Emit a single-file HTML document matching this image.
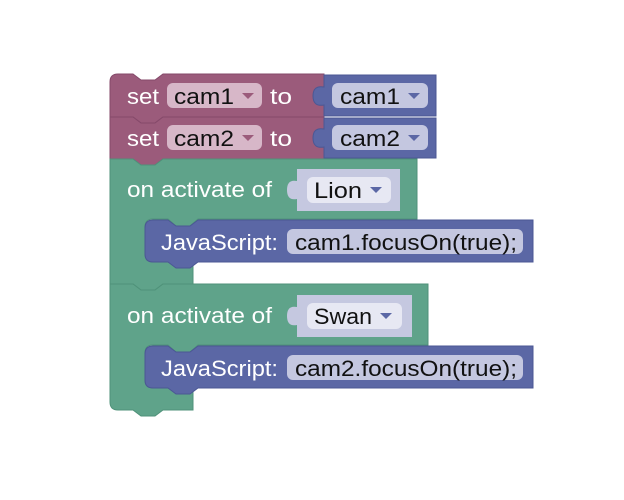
<!DOCTYPE html>
<html><head><meta charset="utf-8"><style>
html,body{margin:0;padding:0;background:#fff;width:624px;height:500px;overflow:hidden}
text{font-family:"Liberation Sans",sans-serif;font-size:22px}
.w{fill:#fff}.k{fill:#111}
</style></head><body>
<svg width="624" height="500" viewBox="0 0 624 500" xmlns="http://www.w3.org/2000/svg">
<path d="M110,82 Q110,74 118,74 L133,74 L141,80 L155,80 L163,74 L324,74 L324,117 L163,117 L155,123 L141,123 L133,117 L110,117 Z" fill="#9B5B7B" stroke="#85496A" stroke-width="1"/>
<path d="M110,117 L133,117 L141,123 L155,123 L163,117 L324,117 L324,159 L163,159 L155,165 L141,165 L133,159 L110,159 Z" fill="#9B5B7B" stroke="#85496A" stroke-width="1"/>
<path d="M324,75 L436,75 L436,116 L324,116 L324,105 Q313,107 313,96 Q313,85 324,87 Z" fill="#5B67A5" stroke="#4B5794"/>
<path d="M324,118 L436,118 L436,158 L324,158 L324,147 Q313,149 313,138 Q313,127 324,129 Z" fill="#5B67A5" stroke="#4B5794"/>
<path d="M110,159 L133,159 L141,165 L155,165 L163,159 L417,159 L417,219 L198,219 L190,226 L176,226 L168,219 L153,219 Q145,219 145,227 L145,254 Q145,262 153,262 L193,262 L193,284 L163,284 L155,290 L141,290 L133,284 L110,284 Z" fill="#5FA38A" stroke="#4F9279"/>
<path d="M110,284 L133,284 L141,290 L155,290 L163,284 L428,284 L428,345 L198,345 L190,352 L176,352 L168,345 L153,345 Q145,345 145,353 L145,380 Q145,388 153,388 L193,388 L193,410 L163,410 L155,416 L141,416 L133,410 L118,410 Q110,410 110,402 Z" fill="#5FA38A" stroke="#4F9279"/>
<path d="M297,169 L400,169 L400,211 L297,211 L297,199 Q287,201 287,190 Q287,179 297,181 Z" fill="#C5C8E0"/>
<path d="M297,295 L412,295 L412,337 L297,337 L297,325 Q287,327 287,316 Q287,305 297,307 Z" fill="#C5C8E0"/>
<path d="M153,220 Q145,220 145,228 L145,254 Q145,262 153,262 L168,262 L176,268 L190,268 L198,262 L533,262 L533,220 L198,220 L190,226 L176,226 L168,220 Z" fill="#5B67A5" stroke="#4B5794"/>
<path d="M153,346 Q145,346 145,354 L145,380 Q145,388 153,388 L168,388 L176,394 L190,394 L198,388 L533,388 L533,346 L198,346 L190,352 L176,352 L168,346 Z" fill="#5B67A5" stroke="#4B5794"/>
<rect x="167" y="83" width="95" height="25" rx="6" fill="#D7B7C8"/>
<rect x="167" y="125" width="95" height="25" rx="6" fill="#D7B7C8"/>
<rect x="332" y="83" width="96" height="25" rx="6" fill="#C4C7E0"/>
<rect x="332" y="125" width="96" height="25" rx="6" fill="#C4C7E0"/>
<rect x="307" y="177" width="84" height="26" rx="6" fill="#E7E8F3"/>
<rect x="307" y="303" width="95" height="26" rx="6" fill="#E7E8F3"/>
<rect x="287" y="229" width="236" height="25" rx="6" fill="#C4C7E0"/>
<rect x="287" y="355" width="236" height="25" rx="6" fill="#C4C7E0"/>
<g fill="#9B5B7B"><path d="M242,93 L254,93 L248,99 Z"/><path d="M242,135 L254,135 L248,141 Z"/></g>
<g fill="#5B67A5"><path d="M408,93 L420,93 L414,99 Z"/><path d="M408,135 L420,135 L414,141 Z"/><path d="M370,187 L382,187 L376,193 Z"/><path d="M380,313 L392,313 L386,319 Z"/></g>
<g lengthAdjust="spacingAndGlyphs">
<text x="127" y="104" class="w" textLength="32" lengthAdjust="spacingAndGlyphs">set</text>
<text x="127" y="146" class="w" textLength="32" lengthAdjust="spacingAndGlyphs">set</text>
<text x="174" y="104" class="k" textLength="60" lengthAdjust="spacingAndGlyphs">cam1</text>
<text x="174" y="146" class="k" textLength="60" lengthAdjust="spacingAndGlyphs">cam2</text>
<text x="270" y="104" class="w" textLength="22" lengthAdjust="spacingAndGlyphs">to</text>
<text x="270" y="146" class="w" textLength="22" lengthAdjust="spacingAndGlyphs">to</text>
<text x="340" y="104" class="k" textLength="60" lengthAdjust="spacingAndGlyphs">cam1</text>
<text x="340" y="146" class="k" textLength="60" lengthAdjust="spacingAndGlyphs">cam2</text>
<text x="127" y="197" class="w" textLength="145" lengthAdjust="spacingAndGlyphs">on activate of</text>
<text x="127" y="323" class="w" textLength="145" lengthAdjust="spacingAndGlyphs">on activate of</text>
<text x="314" y="198" class="k" textLength="48" lengthAdjust="spacingAndGlyphs">Lion</text>
<text x="314" y="324" class="k" textLength="58" lengthAdjust="spacingAndGlyphs">Swan</text>
<text x="161" y="250" class="w" textLength="117" lengthAdjust="spacingAndGlyphs">JavaScript:</text>
<text x="161" y="376" class="w" textLength="117" lengthAdjust="spacingAndGlyphs">JavaScript:</text>
<text x="295" y="250" class="k" textLength="222" lengthAdjust="spacingAndGlyphs">cam1.focusOn(true);</text>
<text x="295" y="376" class="k" textLength="222" lengthAdjust="spacingAndGlyphs">cam2.focusOn(true);</text>
</g>
</svg>
</body></html>
